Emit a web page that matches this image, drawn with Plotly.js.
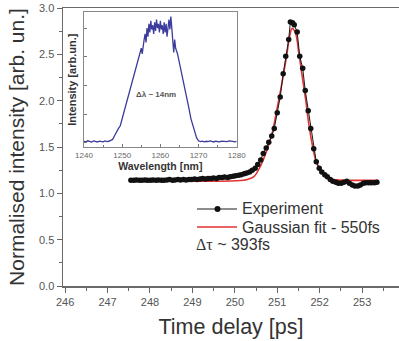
<!DOCTYPE html>
<html>
<head>
<meta charset="utf-8">
<script src="https://cdn.plot.ly/plotly-3.0.1.min.js"></script>
<style>html,body{margin:0;padding:0;background:#fff;}#chart{width:399px;height:341px;}</style>
</head>
<body>
<div id="chart"></div>
<script>
// Main pump-probe trace: time delay [ps] vs normalised intensity
const expTime = [247.55,247.62,247.68,247.75,247.81,247.88,247.94,248.01,248.07,248.14,248.20,248.27,248.33,248.40,248.46,248.53,248.59,248.66,248.72,248.79,248.85,248.92,248.98,249.05,249.11,249.18,249.24,249.31,249.37,249.44,249.50,249.57,249.63,249.70,249.76,249.83,249.89,249.96,250.02,250.09,250.15,250.22,250.28,250.35,250.41,250.48,250.54,250.61,250.67,250.74,250.80,250.87,250.93,251.00,251.07,251.14,251.20,251.27,251.31,251.36,251.40,251.47,251.53,251.60,251.66,251.73,251.79,251.86,251.92,251.99,252.05,252.12,252.18,252.25,252.31,252.38,252.44,252.51,252.57,252.64,252.70,252.77,252.83,252.90,252.96,253.03,253.09,253.16,253.22,253.29,253.35];
const expValue = [1.14,1.14,1.145,1.14,1.14,1.145,1.14,1.14,1.145,1.14,1.145,1.14,1.14,1.145,1.15,1.14,1.145,1.15,1.145,1.15,1.145,1.15,1.15,1.155,1.15,1.155,1.16,1.155,1.16,1.16,1.165,1.16,1.17,1.17,1.175,1.17,1.18,1.185,1.19,1.195,1.20,1.21,1.22,1.23,1.25,1.27,1.31,1.36,1.43,1.49,1.55,1.62,1.70,1.87,2.04,2.29,2.48,2.66,2.85,2.84,2.82,2.74,2.48,2.35,2.11,1.89,1.70,1.48,1.34,1.27,1.23,1.20,1.18,1.15,1.13,1.12,1.11,1.11,1.12,1.13,1.11,1.09,1.08,1.08,1.09,1.11,1.115,1.115,1.115,1.115,1.12];

// Gaussian fit curve
const fitTime = [247.55,248.5,249.5,250.0,250.3,250.45,250.6,250.76,250.88,250.99,251.11,251.22,251.29,251.35,251.43,251.51,251.59,251.67,251.74,251.82,251.92,252.06,252.21,252.4,252.7,253.0,253.38];
const fitValue = [1.13,1.13,1.13,1.135,1.15,1.18,1.29,1.47,1.65,1.90,2.19,2.48,2.69,2.78,2.73,2.51,2.26,2.01,1.76,1.54,1.34,1.22,1.16,1.145,1.14,1.14,1.14];

// Inset spectrum: wavelength [nm] vs intensity [arb.un.]
const specWl = [1240,1240.5,1241,1241.5,1242,1242.5,1243,1243.5,1244,1244.5,1245,1245.5,1246,1246.5,1247,1247.5,1248,1248.5,1249,1249.5,1250,1250.5,1251,1251.5,1252,1252.5,1253,1253.5,1254,1254.5,1255,1255.25,1255.5,1255.75,1256,1256.25,1256.5,1256.75,1257,1257.25,1257.5,1257.75,1258,1258.25,1258.5,1258.75,1259,1259.25,1259.5,1259.75,1260,1260.25,1260.5,1260.75,1261,1261.25,1261.5,1261.75,1262,1262.25,1262.5,1262.75,1263,1263.25,1263.5,1263.75,1264,1264.5,1265,1265.5,1266,1266.5,1267,1267.5,1268,1268.5,1269,1269.5,1270,1270.5,1271,1271.5,1272,1272.5,1273,1273.5,1274,1274.5,1275,1275.5,1276,1276.5,1277,1277.5,1278,1278.5,1279,1279.5,1280];
const specValue = [0.012,0.008,0.015,0.010,0.006,0.014,0.010,0.007,0.013,0.011,0.008,0.014,0.010,0.012,0.016,0.025,0.05,0.08,0.10,0.12,0.17,0.21,0.25,0.31,0.35,0.41,0.45,0.50,0.56,0.60,0.66,0.62,0.70,0.72,0.76,0.70,0.80,0.74,0.83,0.77,0.85,0.79,0.82,0.76,0.84,0.78,0.86,0.80,0.83,0.77,0.85,0.79,0.82,0.76,0.84,0.77,0.83,0.74,0.80,0.86,0.79,0.88,0.80,0.72,0.63,0.72,0.66,0.62,0.56,0.50,0.43,0.37,0.30,0.24,0.17,0.12,0.07,0.035,0.015,0.010,0.013,0.008,0.012,0.009,0.014,0.010,0.007,0.012,0.011,0.008,0.013,0.010,0.012,0.009,0.014,0.010,0.011,0.008,0.012];

const xTicks = [246,247,248,249,250,251,252,253];
const insetTicks = [1240,1250,1260,1270,1280];
const legendLabels = ['Experiment', 'Gaussian fit - 550fs'];
const noteText = '<span style="font-family:\'Liberation Serif\', serif">Δτ</span> ~ 393fs';

const FONT = 'Arial, "Liberation Sans", sans-serif';
const BLACK = '#111', RED = '#e23232';

// paper-coordinate helpers for the hand-placed legend (plot area: x 63..399, y 8..286 px)
const px = v => (v - 63) / 336;
const py = v => (286 - v) / 278;

const data = [
  {x: fitTime, y: fitValue, type: 'scatter', mode: 'lines', name: legendLabels[1], showlegend: false,
   line: {color: RED, width: 1.6, shape: 'spline'}, xaxis: 'x', yaxis: 'y'},
  {x: expTime, y: expValue, type: 'scatter', mode: 'lines+markers', name: legendLabels[0], showlegend: false,
   line: {color: '#1a1a1a', width: 1}, marker: {color: BLACK, size: 5.5}, xaxis: 'x', yaxis: 'y'},
  {x: specWl, y: specValue, type: 'scatter', mode: 'lines', showlegend: false,
   line: {color: '#3c3c9c', width: 1.3}, xaxis: 'x2', yaxis: 'y2'}
];

const layout = {
  width: 399, height: 341,
  margin: {l: 63, r: 0, t: 8, b: 55},
  paper_bgcolor: '#fff', plot_bgcolor: '#fff',
  font: {family: FONT, color: '#333'},
  showlegend: false,
  xaxis: {
    domain: [0, 1], range: [245.95, 253.87], tickvals: xTicks,
    ticks: 'outside', ticklen: 5, tickcolor: '#666', tickwidth: 1,
    minor: {dtick: 0.5, tick0: 246, ticks: 'outside', ticklen: 3, tickcolor: '#666'},
    showline: true, linecolor: '#6a6a6a', linewidth: 1.5, mirror: true,
    showgrid: false, zeroline: false,
    tickfont: {size: 11, color: '#555'},
    title: {text: 'Time delay [ps]', font: {size: 21.5, color: '#333'}, standoff: 12}
  },
  yaxis: {
    domain: [0, 1], range: [0, 3], dtick: 0.5, tickformat: '.1f',
    ticks: 'outside', ticklen: 5, tickcolor: '#666', tickwidth: 1,
    minor: {dtick: 0.25, ticks: 'outside', ticklen: 3, tickcolor: '#666'},
    showline: true, linecolor: '#6a6a6a', linewidth: 1.5,
    showgrid: false, zeroline: false,
    tickfont: {size: 11, color: '#555'},
    title: {text: 'Normalised intensity [arb. un.]', font: {size: 21, color: '#333'}, standoff: 8}
  },
  xaxis2: {
    domain: [0.0625, 0.517], anchor: 'y2', range: [1240, 1280], tickvals: insetTicks,
    ticks: 'inside', ticklen: 3, tickcolor: '#777',
    minor: {dtick: 5, ticks: 'inside', ticklen: 2, tickcolor: '#777'},
    showline: true, linecolor: '#888', linewidth: 1, mirror: true,
    showgrid: false, zeroline: false,
    tickfont: {size: 8, color: '#666'},
    title: {text: '<b>Wavelength [nm]</b>', font: {size: 10.5, color: '#333'}, standoff: 2}
  },
  yaxis2: {
    domain: [0.5, 0.984], anchor: 'x2', range: [-0.028, 0.909], dtick: 0.2, tick0: 0,
    ticks: 'inside', ticklen: 3, tickcolor: '#777', showticklabels: false,
    showline: true, linecolor: '#888', linewidth: 1, mirror: true,
    showgrid: false, zeroline: false,
    title: {text: '<b>Intensity [arb.un.]</b>', font: {size: 11, color: '#333'}, standoff: 4}
  },
  shapes: [
    {type: 'line', xref: 'paper', yref: 'paper', x0: px(197), x1: px(237), y0: py(209), y1: py(209),
     line: {color: '#1a1a1a', width: 1}},
    {type: 'circle', xref: 'paper', yref: 'paper', x0: px(214.5), x1: px(220.5), y0: py(206), y1: py(212),
     fillcolor: BLACK, line: {color: BLACK, width: 0}},
    {type: 'line', xref: 'paper', yref: 'paper', x0: px(197), x1: px(237), y0: py(227), y1: py(227),
     line: {color: RED, width: 1.6}}
  ],
  annotations: [
    {xref: 'x2', yref: 'y2', x: 1258.8, y: 0.34, text: '<b>Δλ ~ 14nm</b>', showarrow: false,
     font: {size: 8, color: '#555'}},
    {xref: 'paper', yref: 'paper', x: px(240), y: py(209), xanchor: 'left', yanchor: 'middle', showarrow: false,
     text: legendLabels[0], font: {size: 16, color: '#333'}},
    {xref: 'paper', yref: 'paper', x: px(240), y: py(227), xanchor: 'left', yanchor: 'middle', showarrow: false,
     text: legendLabels[1], font: {size: 16, color: '#333'}},
    {xref: 'paper', yref: 'paper', x: px(194), y: py(244), xanchor: 'left', yanchor: 'middle', showarrow: false,
     text: noteText, font: {size: 16, color: '#333'}}
  ]
};

Plotly.newPlot('chart', data, layout, {staticPlot: true, displayModeBar: false});
</script>
</body>
</html>
